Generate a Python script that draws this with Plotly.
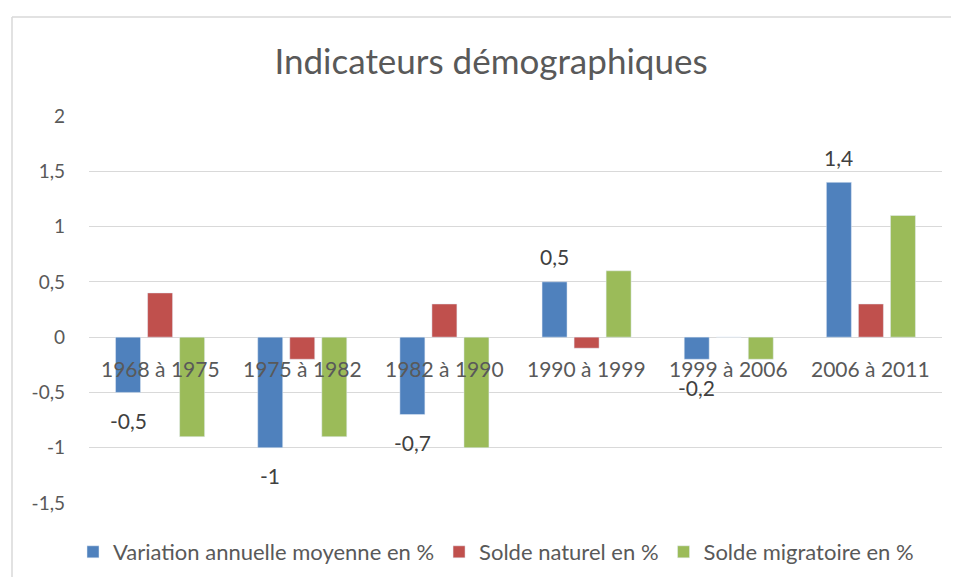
import plotly.graph_objects as go

categories = ["1968 à 1975", "1975 à 1982", "1982 à 1990", "1990 à 1999", "1999 à 2006", "2006 à 2011"]
variation = [-0.5, -1, -0.7, 0.5, -0.2, 1.4]
solde_naturel = [0.4, -0.2, 0.3, -0.1, 0, 0.3]
solde_migratoire = [-0.9, -0.9, -1, 0.6, -0.2, 1.1]
y_ticks = [-1.5, -1, -0.5, 0, 0.5, 1, 1.5, 2]

def fr(v):
    return f"{v:g}".replace(".", ",")

FONT = "Lato"
TXT = "#595959"

# page body has 8px margins; figure is sized to stay inside the 959x585 window
W, H = 943, 569
ML, MR, MT, MB = 81, 9, 108, 74
PW, PH = W - ML - MR, H - MT - MB

fig = go.Figure()
fig.add_bar(x=categories, y=variation, name="Variation annuelle moyenne en %", marker_color="#4F81BD")
fig.add_bar(x=categories, y=solde_naturel, name="Solde naturel en %", marker_color="#C0504D")
fig.add_bar(x=categories, y=solde_migratoire, name="Solde migratoire en %", marker_color="#9BBB59")

# data labels of the first series
for c, v in zip(categories, variation):
    fig.add_annotation(x=c, y=v, xref="x", yref="y", text=fr(v), showarrow=False,
                       xshift=-32, yanchor="middle", yshift=25 if v > 0 else -28,
                       font=dict(size=21, color="#404040", family=FONT))

# category labels sit at the zero line
for c in categories:
    fig.add_annotation(x=c, y=0, xref="x", yref="y", text=c, showarrow=False,
                       yanchor="middle", yshift=-31, font=dict(size=21, color=TXT, family=FONT))

# chart-area frame (top and left edges visible)
bx = (4 - ML) / PW
by = (MT + PH - 9) / PH
fig.add_shape(type="line", xref="paper", yref="paper", x0=bx, x1=1.2, y0=by, y1=by,
              line=dict(color="#D9D9D9", width=1.5), layer="below")
fig.add_shape(type="line", xref="paper", yref="paper", x0=bx, x1=bx, y0=-0.5, y1=by,
              line=dict(color="#D9D9D9", width=1.5), layer="below")

fig.update_layout(
    width=W, height=H,
    margin=dict(l=ML, r=MR, t=MT, b=MB),
    paper_bgcolor="white", plot_bgcolor="white",
    title=dict(text="Indicateurs démographiques", x=483 / W, xanchor="center",
               y=1 - 54 / H, yanchor="middle",
               font=dict(size=35, color=TXT, family=FONT)),
    barmode="group", bargap=0.324, bargroupgap=0.22,
    showlegend=True,
    legend=dict(orientation="h", xref="container", yref="container",
                x=488 / W, xanchor="center", y=1 - 544 / H, yanchor="middle",
                font=dict(size=22, color=TXT, family=FONT), itemwidth=30,
                traceorder="normal"),
    xaxis=dict(showticklabels=False, showgrid=False, zeroline=False, showline=False),
    yaxis=dict(range=[-1.5, 2], tickvals=y_ticks, ticktext=[fr(v) for v in y_ticks],
               showgrid=True, gridcolor="#D9D9D9", gridwidth=1.3,
               zeroline=True, zerolinecolor="#D9D9D9", zerolinewidth=1.3,
               showline=False, ticklabelstandoff=23,
               tickfont=dict(size=19, color=TXT, family=FONT)),
)

fig.write_html("out.html")
